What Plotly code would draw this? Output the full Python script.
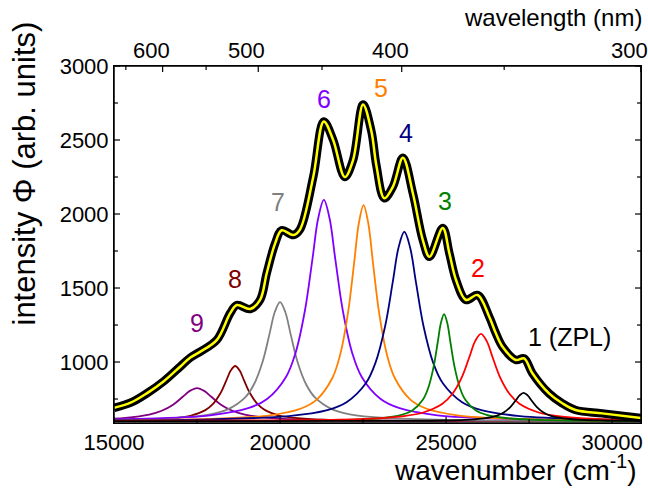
import plotly.graph_objects as go

# ---------------- data ----------------
# measured spectrum (black) and total fit (yellow), wavenumber in cm^-1
fit_x = [15000, 15500, 16000, 16500, 17000, 17300, 17600, 18100, 18500, 18700,
         19100, 19400, 19600, 19850, 20050, 20400, 20600, 21000, 21317, 21600,
         21950, 22200, 22500, 22750, 22900, 23140, 23400, 23700, 24000, 24300,
         24500, 24900, 25100, 25300, 25600, 25950, 26300, 26500, 26700, 27100,
         27350, 27600, 28100, 28500, 28900, 29700, 30870]
fit_y = [690, 725, 790, 870, 970, 1030, 1070, 1150, 1330, 1385,
         1358, 1420, 1600, 1800, 1890, 1858, 1895, 2250, 2625, 2500,
         2250, 2365, 2740, 2560, 2330, 2106, 2185, 2380, 2140, 1824,
         1711, 1905, 1734, 1554, 1419, 1453, 1306, 1194, 1103, 1014,
         1025, 924, 788, 721, 676, 653, 622]
data_x = fit_x
data_y = fit_y

# fitted components (wavenumber samples, intensity samples)
c9_x = [15000, 15340, 16060, 16420, 16780, 17070, 17285, 17500, 17715, 17930,
        18220, 18580, 18940, 19660, 20380, 21820, 24700, 30870]
c9_y = [617, 622, 645, 669, 712, 765, 805, 824, 805, 765,
        712, 669, 645, 622, 613, 606, 602, 601]

c8_x = [15000, 15950, 16850, 17300, 17750, 17975, 18200, 18380, 18515, 18650,
        18785, 18920, 19100, 19325, 19550, 20000, 20450, 21350, 23150, 30870]
c8_y = [606, 610, 622, 637, 675, 715, 787, 874, 942, 973,
        942, 874, 787, 715, 675, 637, 622, 610, 604, 600]

c7_x = [15000, 16850, 17900, 18425, 18950, 19212, 19475, 19685, 19842, 20000,
        20158, 20315, 20525, 20788, 21050, 21575, 22100, 23150, 25250, 30870]
c7_y = [609, 622, 647, 680, 761, 848, 1002, 1192, 1338, 1405,
        1338, 1192, 1002, 848, 761, 680, 647, 622, 608, 602]

c6_x = [15000, 15620, 17900, 19040, 19610, 20180, 20465, 20750, 20978, 21149,
        21320, 21491, 21662, 21890, 22175, 22460, 23030, 23600, 24740, 27020, 30870]
c6_y = [612, 615, 640, 688, 750, 899, 1060, 1348, 1699, 1971,
        2095, 1971, 1699, 1348, 1060, 899, 750, 688, 640, 615, 605]

c5_x = [15000, 17815, 19695, 20635, 21105, 21575, 21810, 22045, 22233, 22374,
        22515, 22656, 22797, 22985, 23220, 23455, 23925, 24395, 25335, 27215, 30870]
c5_y = [606, 615, 640, 686, 746, 892, 1049, 1330, 1673, 1939,
        2060, 1939, 1673, 1330, 1049, 892, 746, 686, 640, 615, 605]

c4_x = [15000, 17943, 20263, 21423, 22003, 22583, 22873, 23163, 23395, 23569,
        23743, 23917, 24091, 24323, 24613, 24903, 25483, 26063, 27223, 29543, 30870]
c4_y = [606, 613, 635, 675, 728, 856, 994, 1240, 1541, 1774,
        1880, 1774, 1541, 1240, 994, 856, 728, 675, 635, 613, 608]

c3_x = [15000, 21740, 23020, 23660, 23980, 24300, 24460, 24620, 24748, 24844,
        24940, 25036, 25132, 25260, 25420, 25580, 25900, 26220, 26860, 28140, 30870]
c3_y = [601, 607, 620, 643, 672, 745, 823, 962, 1132, 1264,
        1324, 1264, 1132, 962, 823, 745, 672, 643, 620, 607, 602]

c2_x = [15000, 20250, 22570, 23730, 24310, 24890, 25180, 25470, 25702, 25876,
        26050, 26224, 26398, 26630, 26920, 27210, 27790, 28370, 29530, 30870]
c2_y = [602, 606, 616, 635, 659, 718, 782, 895, 1034, 1141,
        1190, 1141, 1034, 895, 782, 718, 659, 635, 616, 608]

c1_x = [15000, 23335, 24935, 25735, 26135, 26535, 26735, 26935, 27095, 27215,
        27335, 27455, 27575, 27735, 27935, 28135, 28535, 28935, 29735, 30870]
c1_y = [600, 602, 605, 611, 619, 638, 659, 696, 740, 775,
        791, 775, 740, 696, 659, 638, 619, 611, 605, 602]

components = [
    ("9", "#800080", c9_x, c9_y),
    ("8", "#800000", c8_x, c8_y),
    ("7", "#808080", c7_x, c7_y),
    ("6", "#8000FF", c6_x, c6_y),
    ("5", "#FF8000", c5_x, c5_y),
    ("4", "#000080", c4_x, c4_y),
    ("3", "#008000", c3_x, c3_y),
    ("2", "#FF0000", c2_x, c2_y),
    ("1 (ZPL)", "#000000", c1_x, c1_y),
]

# peak label positions (wavenumber, intensity)
label_x = [17485, 18653, 19940, 21317, 23040, 23793, 24970, 25967, 28712]
label_y = [1265, 1561, 2081, 2777, 2851, 2545, 2090, 1633, 1171]

# bottom axis ticks (major labelled, minor between)
wn_major = [15000, 20000, 25000, 30000]
wn_minor = [17500, 22500, 27500]
# top axis: wavelength ticks (nm)
wl_major = [600, 500, 400, 300]
wl_minor = [650, 550, 450, 350]
# left axis ticks
int_major = [1000, 1500, 2000, 2500, 3000]
int_minor = [750, 1250, 1750, 2250, 2750]

# ---------------- figure ----------------
FONT = "Arial, Liberation Sans, sans-serif"
LINE = "black"
TOP_RANGE = [14972, 33340]
LABEL_SHIFT = 400   # the top labels sit ~12 px left of their ticks in the reference
TICKFONT = dict(family=FONT, size=22, color="black")
MAJ_LEN, MIN_LEN = 6, 4

fig = go.Figure()

for name, col, xs, ys in components:
    fig.add_trace(go.Scatter(x=xs, y=ys, mode="lines", name=name,
                             line=dict(color=col, width=1.8, shape="spline"),
                             showlegend=False, hoverinfo="skip"))

fig.add_trace(go.Scatter(x=data_x, y=data_y, mode="lines", name="data",
                         line=dict(color="black", width=8.5, shape="spline"),
                         showlegend=False))
fig.add_trace(go.Scatter(x=fit_x, y=fit_y, mode="lines", name="fit",
                         line=dict(color="#FFFF00", width=2.5, shape="spline"),
                         showlegend=False))

# invisible helper trace so the (thin, separate) wavelength subplot exists
fig.add_trace(go.Scatter(x=[1e7 / w for w in wl_major], y=[None] * len(wl_major),
                         xaxis="x2", yaxis="y2", mode="lines",
                         showlegend=False, hoverinfo="skip"))

for (name, col, _, _), lx, ly in zip(components, label_x, label_y):
    fig.add_annotation(x=lx, y=ly, xref="x", yref="y", text=name, showarrow=False,
                       font=dict(family=FONT, size=25, color=col),
                       xanchor="center", yanchor="middle")

# wavelength tick labels (shifted left of their ticks, as in the reference)
for w in wl_major:
    fig.add_annotation(x=1e7 / w - LABEL_SHIFT, y=1.0, xref="x2", yref="paper",
                       text=str(w), showarrow=False, font=TICKFONT,
                       xanchor="center", yanchor="bottom", yshift=1)

fig.add_annotation(x=0.996, y=-0.126, xref="paper", yref="paper",
                   text="wavenumber (cm<sup>-1</sup>)", showarrow=False,
                   font=dict(family=FONT, size=28, color="black"),
                   xanchor="right", yanchor="middle")
fig.add_annotation(x=1.006, y=1.137, xref="paper", yref="paper",
                   text="wavelength (nm)", showarrow=False,
                   font=dict(family=FONT, size=24, color="black"),
                   xanchor="right", yanchor="middle")
fig.add_annotation(x=-0.17, y=0.70, xref="paper", yref="paper",
                   text="intensity \u03a6 (arb. units)", showarrow=False, textangle=-90,
                   font=dict(family=FONT, size=31, color="black"),
                   xanchor="center", yanchor="middle")

# plot frame
fig.add_shape(type="rect", xref="paper", yref="paper", x0=0, x1=1, y0=0, y1=1,
              line=dict(color=LINE, width=1.5), fillcolor="rgba(0,0,0,0)", layer="above")

# inward tick marks, positioned through the axes' own scales
TICK_LINE = dict(color=LINE, width=1.2)
for v in wn_major + wn_minor:
    ln = MAJ_LEN if v in wn_major else MIN_LEN
    fig.add_shape(type="line", xref="x", yref="paper", x0=v, x1=v,
                  ysizemode="pixel", yanchor=0, y0=0, y1=ln, line=TICK_LINE, layer="above")
for w in wl_major + wl_minor:
    ln = MAJ_LEN if w in wl_major else MIN_LEN
    fig.add_shape(type="line", xref="x2", yref="paper", x0=1e7 / w, x1=1e7 / w,
                  ysizemode="pixel", yanchor=1, y0=0, y1=-ln, line=TICK_LINE, layer="above")
for v in int_major + int_minor:
    ln = MAJ_LEN if v in int_major else MIN_LEN
    fig.add_shape(type="line", yref="y", xref="paper", y0=v, y1=v,
                  xsizemode="pixel", xanchor=0, x0=0, x1=ln, line=TICK_LINE, layer="above")
    fig.add_shape(type="line", yref="y", xref="paper", y0=v, y1=v,
                  xsizemode="pixel", xanchor=1, x0=0, x1=-ln, line=TICK_LINE, layer="above")


def ticks_labels(major):
    return major, [str(v) for v in major]


xv, xt = ticks_labels(wn_major)
yv, yt = ticks_labels(int_major)

fig.update_layout(
    width=648, height=493,
    margin=dict(l=114, r=5, t=66, b=70),
    plot_bgcolor="white", paper_bgcolor="white",
    showlegend=False,
    xaxis=dict(domain=[0, 1], anchor="y", range=[15000, 30870],
               tickmode="array", tickvals=xv, ticktext=xt, ticks="",
               showline=True, linecolor=LINE, linewidth=1, mirror=True,
               showgrid=False, zeroline=False, tickfont=TICKFONT),
    yaxis=dict(domain=[0, 1], anchor="x", range=[588, 3000],
               tickmode="array", tickvals=yv, ticktext=yt, ticks="",
               showline=True, linecolor=LINE, linewidth=1, mirror=True,
               showgrid=False, zeroline=False, tickfont=TICKFONT),
    xaxis2=dict(domain=[0, 1], anchor="y2", side="top", range=TOP_RANGE,
                showticklabels=False, showline=False, ticks="",
                showgrid=False, zeroline=False),
    yaxis2=dict(domain=[0.996, 1], anchor="x2", range=[0, 1], visible=False,
                showgrid=False, zeroline=False),
)

fig.write_html("out.html")
